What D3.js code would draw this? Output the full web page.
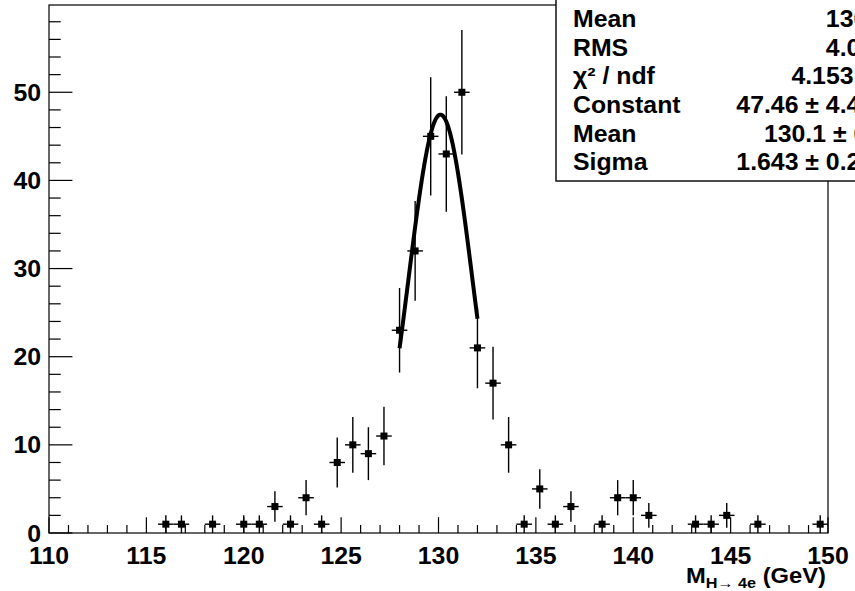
<!DOCTYPE html>
<html>
<head>
<meta charset="utf-8">
<script src="https://cdn.jsdelivr.net/npm/d3@7"></script>
<style>
  html, body { margin: 0; padding: 0; background: #fff; }
  svg { display: block; }
  text { font-family: "Liberation Sans", Arial, Helvetica, sans-serif; font-weight: bold; fill: #000; }
</style>
</head>
<body>
<svg id="chart" width="855" height="591"></svg>
<script>
// ---- data ----
const massCenters = [116.0, 116.8, 118.4, 120.0, 120.8, 121.6, 122.4, 123.2, 124.0, 124.8,
                     125.6, 126.4, 127.2, 128.0, 128.8, 129.6, 130.4, 131.2, 132.0, 132.8,
                     133.6, 134.4, 135.2, 136.0, 136.8, 138.4, 139.2, 140.0, 140.8, 143.2,
                     144.0, 144.8, 146.4, 149.6];
const counts      = [1, 1, 1, 1, 1, 3, 1, 4, 1, 8,
                     10, 9, 11, 23, 32, 45, 43, 50, 21, 17,
                     10, 1, 5, 1, 3, 1, 4, 4, 2, 1,
                     1, 2, 1, 1];
const binWidth = 0.8;
const xDomain = [110, 150];
const yDomain = [0, 59.9];
const xTickLabels = [110, 115, 120, 125, 130, 135, 140, 145, 150];
const yTickLabels = [0, 10, 20, 30, 40, 50];
// Gaussian fit parameters
const fitConstant = 47.46, fitMean = 130.1, fitSigma = 1.643;
const fitRange = [128.0, 132.0];
// stats box rows
const statNames  = ["Entries", "Mean", "RMS", "χ² / ndf", "Constant", "Mean", "Sigma"];
const statValues = ["320", "130.2", "4.084", "4.153 / 2", "47.46 ± 4.426", "130.1 ± 0.1", "1.643 ± 0.215"];

// ---- layout ----
const svg = d3.select("#chart");
const frame = { left: 49, right: 828, top: 5, bottom: 533 };
const x = d3.scaleLinear().domain(xDomain).range([frame.left, frame.right]);
const y = d3.scaleLinear().domain(yDomain).range([frame.bottom, frame.top]);
const stretch = 1.08;

// helper: horizontally stretched text
function sText(parent, tx, ty, size, anchor, str) {
  return parent.append("text")
    .attr("transform", `translate(${tx},${ty}) scale(${stretch},1)`)
    .attr("font-size", size).attr("text-anchor", anchor).text(str);
}

// frame
svg.append("rect")
  .attr("x", frame.left).attr("y", frame.top)
  .attr("width", frame.right - frame.left).attr("height", frame.bottom - frame.top)
  .attr("fill", "none").attr("stroke", "#000").attr("stroke-width", 1.2);

// x axis ticks (inside, upward)
const xMajorLen = 15.8, xMinorLen = 7.9;
const xMinor = d3.range(110, 151, 1);
svg.append("g").selectAll("line").data(xMinor).join("line")
  .attr("x1", d => x(d)).attr("x2", d => x(d))
  .attr("y1", frame.bottom)
  .attr("y2", d => frame.bottom - (d % 5 === 0 ? xMajorLen : xMinorLen))
  .attr("stroke", "#000").attr("stroke-width", 1.2);

// y axis ticks (inside, rightward)
const yMajorLen = 23.4, yMinorLen = 11.7;
const yMinor = d3.range(0, 59, 2);
svg.append("g").selectAll("line").data(yMinor).join("line")
  .attr("y1", d => y(d)).attr("y2", d => y(d))
  .attr("x1", frame.left)
  .attr("x2", d => frame.left + (d % 10 === 0 ? yMajorLen : yMinorLen))
  .attr("stroke", "#000").attr("stroke-width", 1.2);

// tick labels
const gxl = svg.append("g");
xTickLabels.forEach(d => sText(gxl, x(d), 564, 23, "middle", d));
const gyl = svg.append("g");
yTickLabels.forEach(d => sText(gyl, 41, y(d) + 8.5, 23, "end", d));

// axis title
const title = svg.append("text")
  .attr("transform", `translate(826,583) scale(${stretch},1)`)
  .attr("text-anchor", "end").attr("font-size", 22);
title.append("tspan").text("M");
title.append("tspan").attr("font-size", 15).attr("dy", 5).text("H→ 4e");
title.append("tspan").attr("dy", -5).text(" (GeV)");

// error bars
const g = svg.append("g");
const pts = massCenters.map((c, i) => ({ c, n: counts[i], e: Math.sqrt(counts[i]) }));
g.selectAll("line.h").data(pts).join("line").attr("class", "h")
  .attr("x1", d => x(d.c - binWidth / 2)).attr("x2", d => x(d.c + binWidth / 2))
  .attr("y1", d => y(d.n)).attr("y2", d => y(d.n))
  .attr("stroke", "#000").attr("stroke-width", 1.4);
g.selectAll("line.v").data(pts).join("line").attr("class", "v")
  .attr("x1", d => x(d.c)).attr("x2", d => x(d.c))
  .attr("y1", d => y(d.n - d.e)).attr("y2", d => y(d.n + d.e))
  .attr("stroke", "#000").attr("stroke-width", 1.4);
const ms = 7;
g.selectAll("rect").data(pts).join("rect")
  .attr("x", d => x(d.c) - ms / 2).attr("y", d => y(d.n) - ms / 2)
  .attr("width", ms).attr("height", ms).attr("fill", "#000");

// fit curve
const fitXs = d3.range(0, 101).map(i => fitRange[0] + (fitRange[1] - fitRange[0]) * i / 100);
const gauss = v => fitConstant * Math.exp(-0.5 * Math.pow((v - fitMean) / fitSigma, 2));
svg.append("path")
  .attr("d", d3.line().x(d => x(d)).y(d => y(gauss(d)))(fitXs))
  .attr("fill", "none").attr("stroke", "#000").attr("stroke-width", 4);

// stats box
const box = { left: 556, top: -60, right: 990, bottom: 181 };
svg.append("rect")
  .attr("x", box.left).attr("y", box.top)
  .attr("width", box.right - box.left).attr("height", box.bottom - box.top)
  .attr("fill", "#fff").attr("stroke", "#000").attr("stroke-width", 1.4);
const rowY = i => -1.5 + 28.6 * i;
const valRight = 888;
const st = svg.append("g");
statNames.forEach((d, i) => sText(st, 573, rowY(i), 23, "start", d));
statValues.forEach((d, i) => sText(st, valRight, rowY(i), 23, "end", d));
</script>
</body>
</html>
